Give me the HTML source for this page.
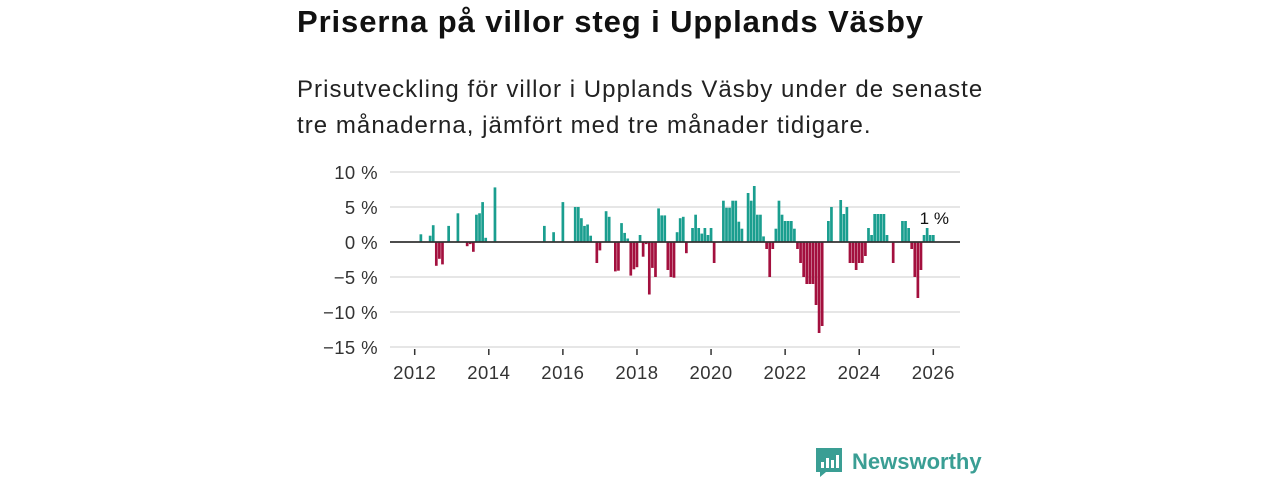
<!DOCTYPE html>
<html><head><meta charset="utf-8"><style>
body{margin:0;width:1280px;height:480px;background:#fff;font-family:"Liberation Sans","DejaVu Sans",sans-serif;overflow:hidden;position:relative}
h1{position:absolute;left:297px;top:4px;margin:0;font-size:31px;font-weight:bold;color:#111;letter-spacing:0.9px;white-space:nowrap}
p{position:absolute;left:297px;top:72px;margin:0;font-size:24px;line-height:36px;color:#222;width:705px;letter-spacing:1.05px}
svg{position:absolute;left:0;top:0}
</style></head><body>
<h1>Priserna på villor steg i Upplands Väsby</h1>
<p>Prisutveckling för villor i Upplands Väsby under de senaste tre månaderna, jämfört med tre månader tidigare.</p>
<svg id="chart" width="1280" height="480"></svg>
<script>
const monthIdx=[2,5,6,7,8,9,11,14,17,18,19,20,21,22,23,26,42,45,48,52,53,54,55,56,57,59,60,62,63,65,66,67,68,69,70,71,72,73,74,75,76,77,78,79,80,81,82,83,84,85,86,87,88,90,91,92,93,94,95,96,97,100,101,102,103,104,105,106,108,109,110,111,112,113,114,115,116,117,118,119,120,121,122,123,124,125,126,127,128,129,130,131,132,134,135,138,139,140,141,142,143,144,145,146,147,148,149,150,151,152,153,155,158,159,160,161,162,163,164,165,166,167,168];
const values=[1.1,0.9,2.4,-3.4,-2.4,-3.2,2.3,4.1,-0.6,-0.3,-1.4,3.9,4.1,5.7,0.6,7.8,2.3,1.4,5.7,5,5,3.4,2.3,2.5,0.9,-3,-1.2,4.4,3.6,-4.2,-4.1,2.7,1.3,0.5,-4.8,-3.9,-3.6,1,-2.1,-0.3,-7.5,-3.7,-5,4.8,3.8,3.8,-4,-5,-5.1,1.4,3.4,3.6,-1.6,2,3.9,2,1.2,2,1,2,-3,5.9,4.9,4.9,5.9,5.9,2.9,1.9,7,5.9,8,3.9,3.9,0.8,-1,-5,-1,1.9,5.9,3.9,3,3,3,1.9,-1,-3,-5,-6,-6,-6,-9,-13,-12,3,5,6,4,5,-3,-3,-4,-3,-3,-2,2,1,4,4,4,4,1,-3,3,3,2,-1,-5,-8,-4,1,2,1,1];
const yTicks=[10,5,0,-5,-10,-15];
const yTickLabels=["10 %","5 %","0 %","−5 %","−10 %","−15 %"];
const xTickYears=[2012,2014,2016,2018,2020,2022,2024,2026];
const lastLabel="1 %";
const NS="http://www.w3.org/2000/svg";
const svg=document.getElementById('chart');
const X0=390,X1=960;
const xScale=m=>414.7+m*3.087;
const yScale=v=>242-v*7;
function mk(t,a){const e=document.createElementNS(NS,t);for(const k in a)e.setAttribute(k,a[k]);svg.appendChild(e);return e;}
yTicks.forEach((t,i)=>{
  if(t!==0){const g=mk('line',{x1:X0,x2:X1,y1:yScale(t),y2:yScale(t),stroke:'#ddd','stroke-width':1.5});
  
  }
  const l=mk('text',{x:378,y:yScale(t)+7,'text-anchor':'end','font-size':18.5,fill:'#333','letter-spacing':0.4});
  
  
  l.textContent=yTickLabels[i];
});
xTickYears.forEach(yr=>{
  const x=xScale((yr-2012)*12);
  const t=mk('line',{x1:x,x2:x,y1:349,y2:355,stroke:'#333','stroke-width':1.5});
  
  
  const l=mk('text',{x:x,y:379,'text-anchor':'middle','font-size':18.5,fill:'#333','letter-spacing':0.5});
  
  
  l.textContent=yr;
});
monthIdx.forEach((m,i)=>{
  const v=values[i];const x=xScale(m);
  const y=Math.min(yScale(v),yScale(0));const h=Math.abs(yScale(v)-yScale(0));
  const b=mk('rect',{x:x-1.35,y:y,width:2.7,height:h,fill:v>=0?'#1a9e8f':'#a3103e'});
  
  
});
const z=mk('line',{x1:X0,x2:X1,y1:yScale(0),y2:yScale(0),stroke:'#333','stroke-width':1.8});


const ll=mk('text',{x:xScale(monthIdx[monthIdx.length-1])+1,y:224,'text-anchor':'middle','font-size':17,fill:'#111'});


ll.textContent=lastLabel;
const logo=mk('g',{});


const ic=document.createElementNS(NS,'path');
ic.setAttribute('d','M816 448h26v24h-16l-6 5v-5h-4z');ic.setAttribute('fill','#3a9e94');logo.appendChild(ic);
[[821,462,3,6],[826,458,3,10],[831,460,3,8],[836,455,3,13]].forEach(r=>{const e=document.createElementNS(NS,'rect');e.setAttribute('x',r[0]);e.setAttribute('y',r[1]);e.setAttribute('width',r[2]);e.setAttribute('height',r[3]);e.setAttribute('fill','#fff');logo.appendChild(e);});
const lt=document.createElementNS(NS,'text');
lt.setAttribute('x',852);lt.setAttribute('y',469);lt.setAttribute('font-size',22);lt.setAttribute('font-weight','bold');lt.setAttribute('fill','#3a9e94');lt.textContent='Newsworthy';logo.appendChild(lt);
</script>
</body></html>
